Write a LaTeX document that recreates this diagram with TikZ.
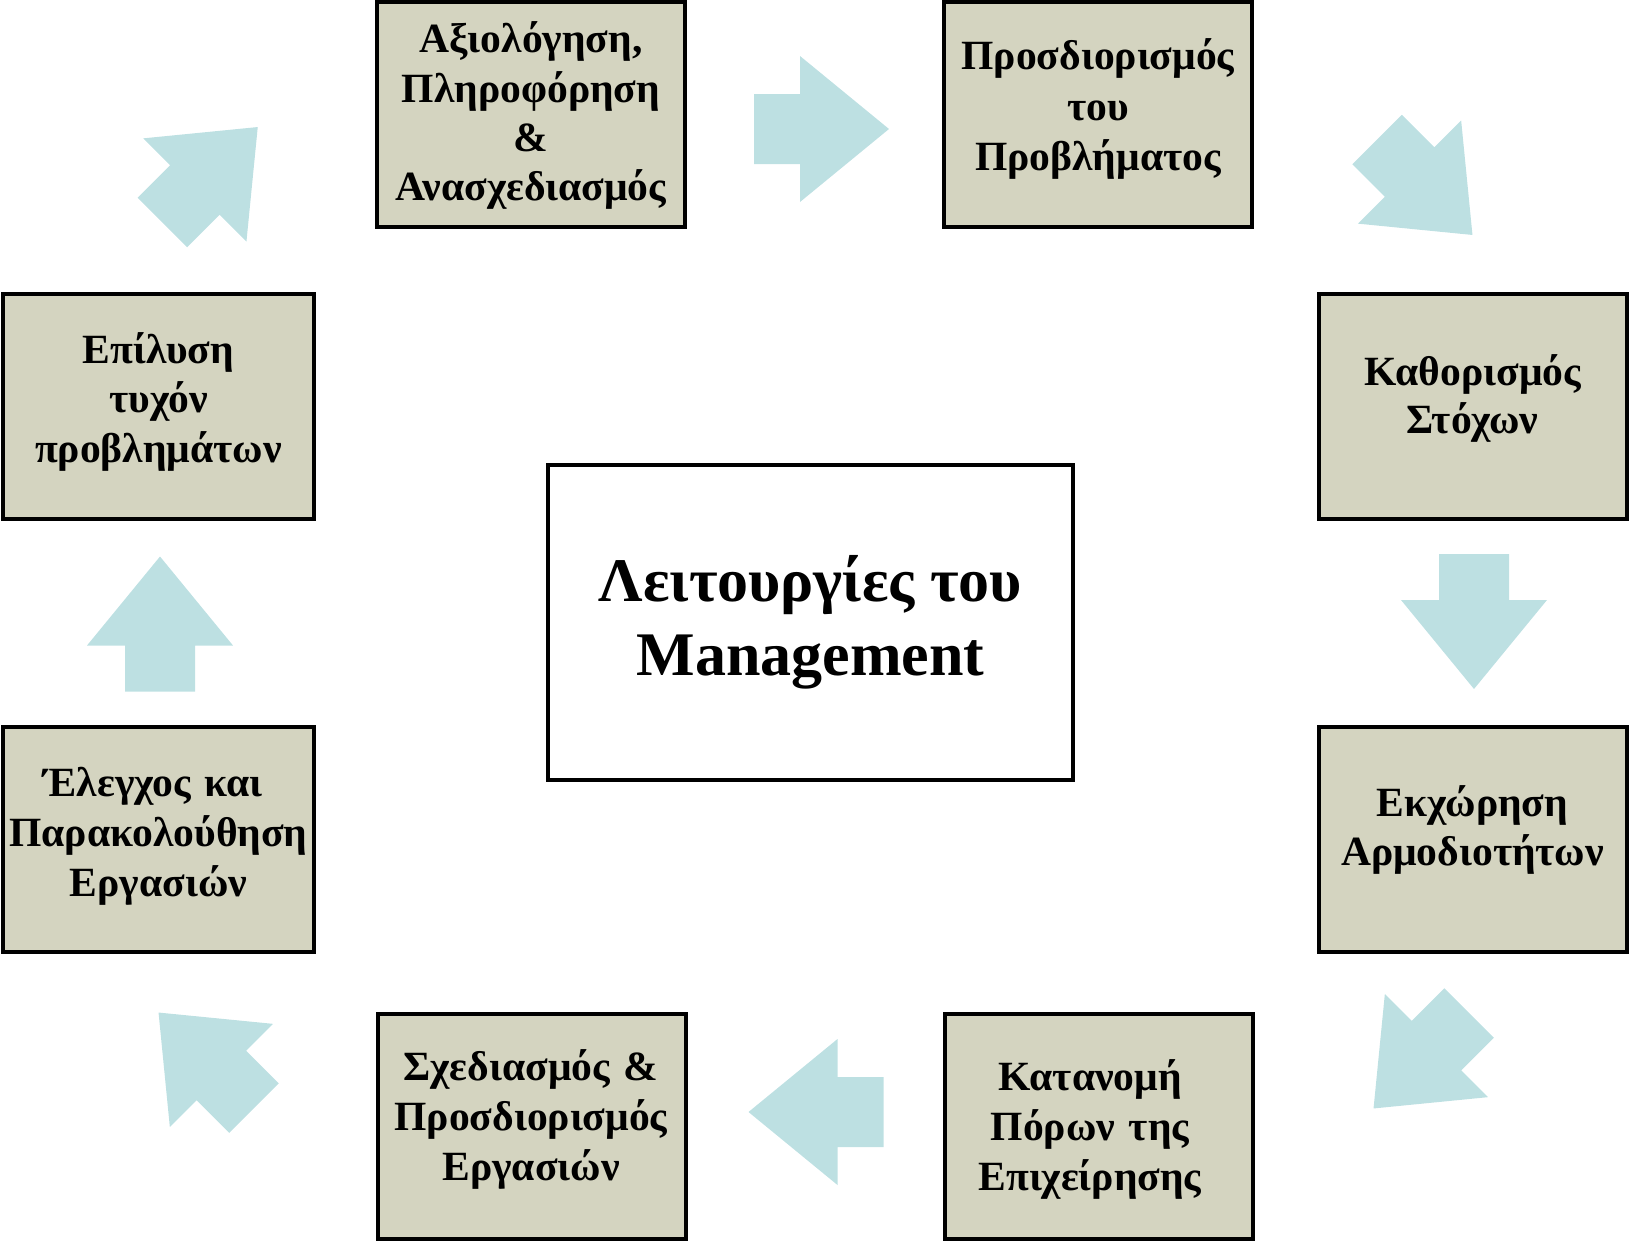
\documentclass[tikz,border=0pt]{standalone}
\usepackage{fontspec}
\setmainfont{Liberation Serif}
\definecolor{boxfill}{RGB}{212,212,192}
\definecolor{arrowfill}{RGB}{189,224,226}
\begin{document}
\begin{tikzpicture}[x=0.5pt,y=-0.5pt,
  gbox/.style={draw=black,line width=2pt,fill=boxfill,minimum width=154pt,minimum height=112.5pt,inner sep=0pt},
  cbox/.style={draw=black,line width=2pt,fill=white,minimum width=262.5pt,minimum height=157.5pt,inner sep=0pt,
    align=center,font=\fontsize{31}{37}\selectfont\bfseries},
  boxtext/.style={anchor=base,text width=170pt,align=center,inner sep=0pt,font=\fontsize{20.8}{#1}\selectfont\bfseries},
  boxtext/.default=24.5pt,
  blockarrow/.pic={\fill[arrowfill] (0,35) -- (46,35) -- (46,73) -- (135,0) -- (46,-73) -- (46,-35) -- (0,-35) -- cycle;}]
\useasboundingbox (0,0) rectangle (1629,1242);
% boxes
\node[gbox] (A) at (531,114.5) {};
\node[gbox] (B) at (1098,114.5) {};
\node[gbox] (C) at (1472.5,406.5) {};
\node[gbox] (D) at (1472.5,839) {};
\node[gbox] (E) at (1098.5,1126.5) {};
\node[gbox] (F) at (531.5,1126.5) {};
\node[gbox,minimum width=155.5pt] (G) at (158.5,839) {};
\node[gbox,minimum width=155.5pt] (H) at (158.5,406.5) {};
\node[cbox] (M) at (810.5,622.5) {Λειτουργίες του\\Management};
% texts (anchored at the baseline of their first line)
\node[boxtext=24.6pt] (At) at (531,53) {Αξιολόγηση,\\Πληροφόρηση\\\&\\Ανασχεδιασμός};
\node[boxtext=25.2pt] (Bt) at (1098,69.7) {Προσδιορισμός\\του\\Προβλήματος};
\node[boxtext=24.2pt] (Ct) at (1472.5,385) {Καθορισμός\\Στόχων};
\node[boxtext=24.5pt] (Dt) at (1472.5,816) {Εκχώρηση\\Αρμοδιοτήτων};
\node[boxtext=25pt] (Et) at (1090,1090) {Κατανομή\\Πόρων της\\Επιχείρησης};
\node[boxtext=25pt] (Ft) at (531,1080) {Σχεδιασμός \&\\Προσδιορισμός\\Εργασιών};
\node[boxtext=24.9pt] (Gt) at (158.5,796.7) {Έλεγχος και\kern0.25em\\Παρακολούθηση\\Εργασιών};
\node[boxtext=24.7pt] (Ht) at (158.5,363.3) {Επίλυση\\τυχόν\\προβλημάτων};
% arrow tails
\coordinate (a1) at (754,129);
\coordinate (a2) at (1377,139.5);
\coordinate (a3) at (1474,554);
\coordinate (a4) at (1469,1013);
\coordinate (a5) at (883.5,1112);
\coordinate (a6) at (254,1108);
\coordinate (a7) at (160,691.5);
\coordinate (a8) at (162.3,222.5);
\pic[rotate=0] at (a1) {blockarrow};
\pic[rotate=-45] at (a2) {blockarrow};
\pic[rotate=-90] at (a3) {blockarrow};
\pic[rotate=-135] at (a4) {blockarrow};
\pic[rotate=180] at (a5) {blockarrow};
\pic[rotate=135] at (a6) {blockarrow};
\pic[rotate=90] at (a7) {blockarrow};
\pic[rotate=45] at (a8) {blockarrow};
\end{tikzpicture}
\end{document}
